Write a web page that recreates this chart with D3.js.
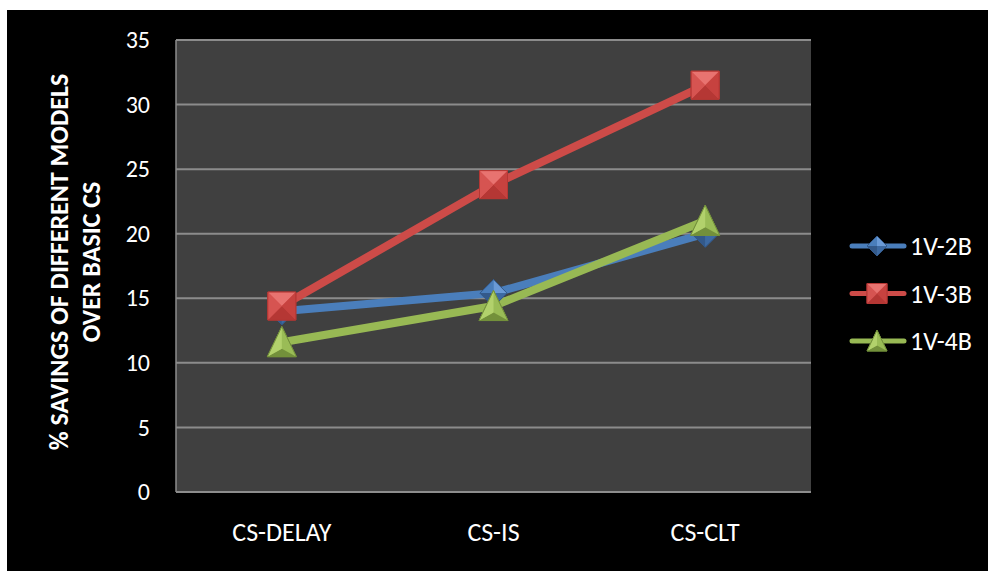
<!DOCTYPE html>
<html>
<head>
<meta charset="utf-8">
<script src="https://cdn.jsdelivr.net/npm/d3@7"></script>
<style>
  html, body { margin: 0; padding: 0; background: #ffffff; }
  svg { display: block; }
  text { font-family: Calibri, Carlito, "Open Sans", sans-serif; fill: #ffffff; }
</style>
</head>
<body>
<svg id="chart" width="988" height="571"></svg>
<script>
// Chart data
const categories = ["CS-DELAY", "CS-IS", "CS-CLT"];
const seriesNames = ["1V-2B", "1V-3B", "1V-4B"];
const values1V2B = [14.0, 15.4, 20.0];
const values1V3B = [14.4, 23.8, 31.5];
const values1V4B = [11.6, 14.4, 21.0];
const yTicks = [0, 5, 10, 15, 20, 25, 30, 35];
const yTitleLines = ["% SAVINGS OF DIFFERENT MODELS", "OVER BASIC CS"];

const series = [
  { name: seriesNames[0], values: values1V2B, color: "#4a7ebb", shape: "diamond",
    shades: ["#6a9ad6", "#4a7ebb", "#3d6aa2", "#33598a"] },
  { name: seriesNames[1], values: values1V3B, color: "#cd4b48", shape: "square",
    shades: ["#e87370", "#d65451", "#c7423f", "#b53734"] },
  { name: seriesNames[2], values: values1V4B, color: "#98b954", shape: "triangle",
    shades: ["#b2d16c", "#9abc56", "#86a647", "#73903b"] }
];

const fontStack = 'Calibri, Carlito, "Open Sans", sans-serif';
const svg = d3.select("#chart");

// Black chart area
svg.append("rect").attr("x", 7).attr("y", 10).attr("width", 981).attr("height", 561).attr("fill", "#000000");

const plot = { left: 176, right: 811, top: 40, bottom: 492 };

const x = d3.scaleBand().domain(categories).range([plot.left, plot.right]);
const y = d3.scaleLinear().domain([0, 35]).range([plot.bottom, plot.top]);

// Plot background
svg.append("rect")
  .attr("x", plot.left).attr("y", plot.top)
  .attr("width", plot.right - plot.left).attr("height", plot.bottom - plot.top)
  .attr("fill", "#404040");

// Gridlines
svg.append("g").selectAll("line").data(yTicks).join("line")
  .attr("x1", plot.left).attr("x2", plot.right)
  .attr("y1", d => y(d)).attr("y2", d => y(d))
  .attr("stroke", "#8c8c8c").attr("stroke-width", 2);

// Left axis line
svg.append("line")
  .attr("x1", plot.left).attr("x2", plot.left)
  .attr("y1", plot.top).attr("y2", plot.bottom)
  .attr("stroke", "#8c8c8c").attr("stroke-width", 1.5);

// Y axis
const yAxis = svg.append("g")
  .attr("transform", `translate(${plot.left},0)`)
  .call(d3.axisLeft(y).tickValues(yTicks).tickSize(0).tickPadding(26));
yAxis.select(".domain").remove();
yAxis.selectAll("text").attr("font-size", 24).attr("fill", "#ffffff")
  .style("font-family", fontStack);

// X axis
const xAxis = svg.append("g")
  .attr("transform", `translate(0,${plot.bottom})`)
  .call(d3.axisBottom(x).tickSize(0).tickPadding(31));
xAxis.select(".domain").remove();
xAxis.selectAll("text").attr("font-size", 26).attr("fill", "#ffffff")
  .style("font-family", fontStack);

// Y axis title
const yTitle = svg.append("text")
  .attr("transform", "translate(0,262) rotate(-90)")
  .attr("text-anchor", "middle")
  .attr("font-size", 26)
  .attr("font-weight", "bold");
yTitle.selectAll("tspan").data(yTitleLines).join("tspan")
  .attr("x", 0)
  .attr("y", (d, i) => i === 0 ? 68 : 100)
  .text(d => d);

// Faceted marker shapes (bevelled look)
function drawMarker(g, shape, shades, size) {
  const h = size / 2;
  let pts;
  if (shape === "square") pts = [[-h, -h], [h, -h], [h, h], [-h, h]];
  else if (shape === "diamond") pts = [[0, -h], [h, 0], [0, h], [-h, 0]];
  else pts = [[0, -h * 1.08], [h, h * 1.0], [-h, h * 1.0]];
  const c = shape === "triangle" ? [0, h * 0.45] : [0, 0];
  const order = shape === "triangle" ? [1, 3, 0] : [0, 2, 3, 1];
  g.append("polygon").attr("points", pts.map(p => p.join(",")).join(" "))
    .attr("fill", shades[1]).attr("stroke", shades[3]).attr("stroke-width", 1);
  pts.forEach((p, i) => {
    const q = pts[(i + 1) % pts.length];
    g.append("polygon")
      .attr("points", [p, q, c].map(v => v.join(",")).join(" "))
      .attr("fill", shades[order[i]]).attr("stroke", "none");
  });
  g.append("polygon").attr("points", pts.map(p => p.join(",")).join(" "))
    .attr("fill", "none").attr("stroke", shades[3]).attr("stroke-width", 1);
}

const markerSize = { square: 28, diamond: 27, triangle: 29 };

// Series lines and markers
const line = d3.line().x((d, i) => x(categories[i]) + x.bandwidth() / 2).y(d => y(d));
series.forEach(s => {
  svg.append("path").attr("d", line(s.values))
    .attr("fill", "none").attr("stroke", s.color).attr("stroke-width", 8)
    .attr("stroke-linejoin", "round").attr("stroke-linecap", "round");
});
series.forEach(s => {
  s.values.forEach((v, i) => {
    const g = svg.append("g")
      .attr("transform", `translate(${x(categories[i]) + x.bandwidth() / 2},${y(v)})`);
    drawMarker(g, s.shape, s.shades, markerSize[s.shape]);
  });
});

// Legend
const legendY = d3.scalePoint().domain(seriesNames).range([246, 341]);
series.forEach(s => {
  const ly = legendY(s.name);
  svg.append("line").attr("x1", 852).attr("x2", 904).attr("y1", ly).attr("y2", ly)
    .attr("stroke", s.color).attr("stroke-width", 5).attr("stroke-linecap", "round");
  const g = svg.append("g").attr("transform", `translate(877,${ly})`);
  drawMarker(g, s.shape, s.shades, 20);
  svg.append("text").attr("x", 910).attr("y", ly).attr("dy", "0.36em")
    .attr("font-size", 26).text(s.name);
});
</script>
</body>
</html>
